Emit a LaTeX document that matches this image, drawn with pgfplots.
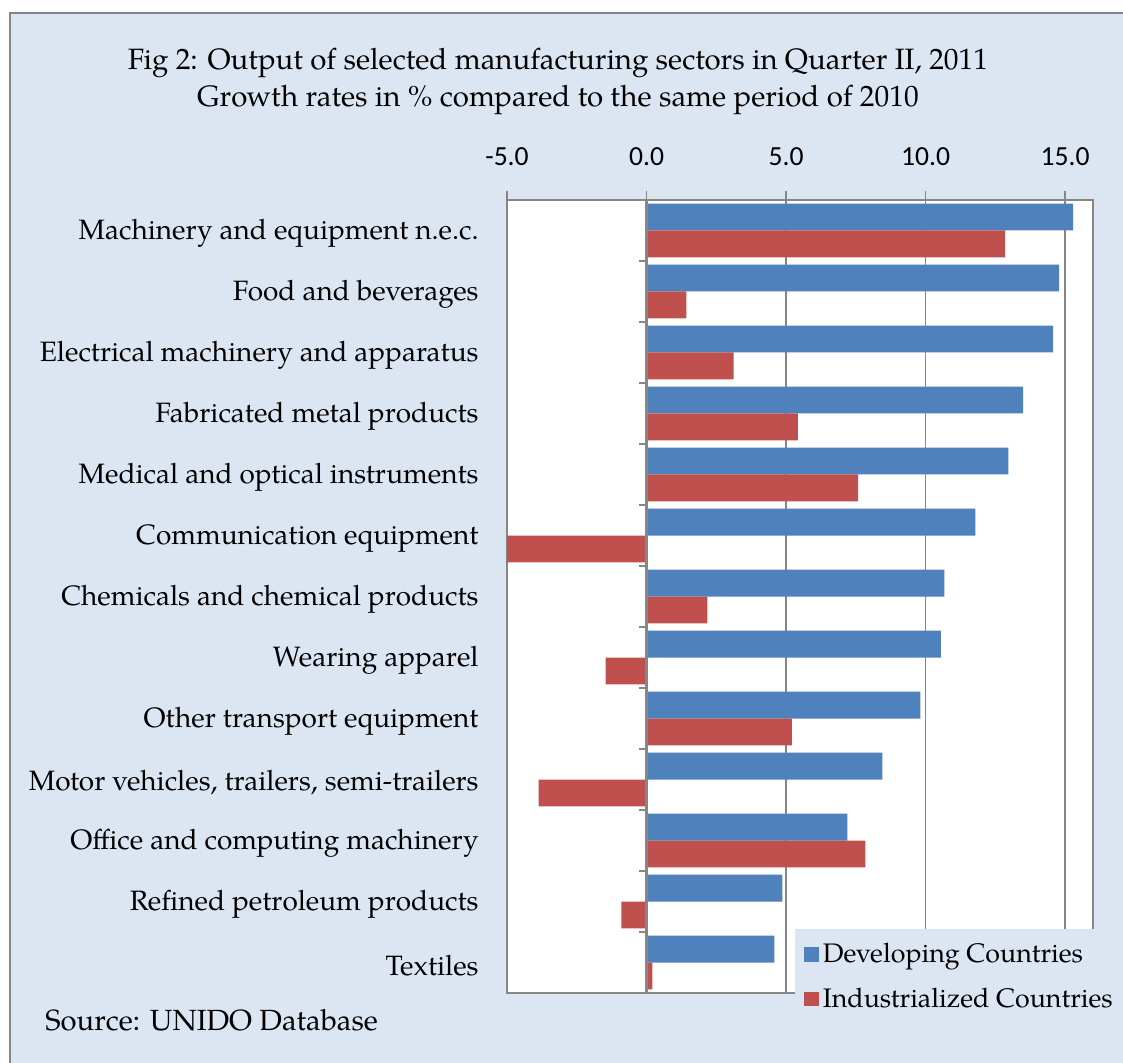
\documentclass[border=0pt]{standalone}
\usepackage{pgfplots}
\pgfplotsset{compat=1.18}
\usepackage{fontspec}
\setmainfont{TeX Gyre Pagella}
\newfontfamily\carlito{Carlito}
\definecolor{bg}{HTML}{DCE6F2}
\definecolor{barblue}{HTML}{4F81BD}
\definecolor{barred}{HTML}{C0504D}
\definecolor{axgray}{HTML}{868686}
\newcommand{\lblfont}{\fontsize{14}{16}\selectfont}
\begin{document}
\begin{tikzpicture}[x=0.5pt,y=0.5pt]
\useasboundingbox (0,0) rectangle (1123,1063);
\fill[white] (0,0) rectangle (1123,1063);
\fill[bg] (10,-5) rectangle (1130,1050);
\draw[axgray, line width=1.2pt] (10,-5) -- (10,1050) -- (1130,1050);
\node[font=\fontsize{14.7}{16}\selectfont] at (558,1000) {Fig 2: Output of selected manufacturing sectors in Quarter II, 2011};
\node[font=\fontsize{14.7}{16}\selectfont] at (558,963) {Growth rates in \% compared to the same period of 2010};
\node[anchor=west, inner sep=0pt, font=\fontsize{14.6}{16}\selectfont] at (45,43) {Source: UNIDO Database};
\begin{axis}[
  at={(253.5pt,35pt)}, anchor=south west,
  scale only axis, width=293pt, height=396.5pt,
  xmin=-5, xmax=16, ymin=-0.5, ymax=12.5, y dir=reverse,
  axis background/.style={fill=white},
  axis line style={axgray, line width=0.8pt},
  xtick={-5,0,5,10,15},
  xtick pos=upper, xticklabel pos=upper,
  tick align=outside, major tick length=4.5pt,
  tick style={axgray, line width=0.8pt},
  xticklabel style={font=\carlito\fontsize{13.8}{15}\selectfont, text=black, yshift=9pt},
  /pgf/number format/.cd, fixed, fixed zerofill, precision=1, assume math mode=true,
  /pgfplots/.cd,
  xmajorgrids, grid style={axgray, line width=0.8pt},
  ytick={0,...,12},
  yticklabels={Machinery and equipment n.e.c., Food and beverages, Electrical machinery and apparatus, Fabricated metal products, Medical and optical instruments, Communication equipment, Chemicals and chemical products, Wearing apparel, Other transport equipment, {Motor vehicles, trailers, semi-trailers}, Office and computing machinery, Refined petroleum products, Textiles},
  ytick style={draw=none},
  yticklabel style={font=\lblfont, anchor=east, inner sep=0pt, xshift=-9.5pt, yshift=-1.5pt},
  xbar, bar width=0.44,
  legend style={at={(0.4915,0.0807)}, anchor=north west, fill=bg, draw=none,
    font=\fontsize{13.4}{15}\selectfont, inner xsep=4.5pt, inner ysep=5pt, row sep=7pt},
  legend cell align=left,
  legend image code/.code={\fill[#1, draw=none] (0pt,-3.6pt) rectangle (7.2pt,3.6pt);},
]
\addplot[fill=barblue, draw=none, bar shift=-0.22] coordinates {
(15.29,0) (14.79,1) (14.57,2) (13.50,3) (12.97,4) (11.78,5) (10.67,6) (10.55,7) (9.81,8) (8.45,9) (7.20,10) (4.87,11) (4.58,12)};
\addlegendentry{Developing Countries}
\addplot[fill=barred, draw=none, bar shift=0.22] coordinates {
(12.85,0) (1.43,1) (3.12,2) (5.42,3) (7.58,4) (-5.0,5) (2.18,6) (-1.47,7) (5.21,8) (-3.87,9) (7.84,10) (-0.90,11) (0.21,12)};
\addlegendentry{Industrialized Countries}
\draw[axgray, line width=1.1pt] (axis cs:0,-0.5) -- (axis cs:0,12.5);
\pgfplotsinvokeforeach{0.5,1.5,...,12.5}{\draw[axgray, line width=0.8pt] (axis cs:0,#1) -- ++(-4pt,0pt);}
\end{axis}
\end{tikzpicture}
\end{document}
